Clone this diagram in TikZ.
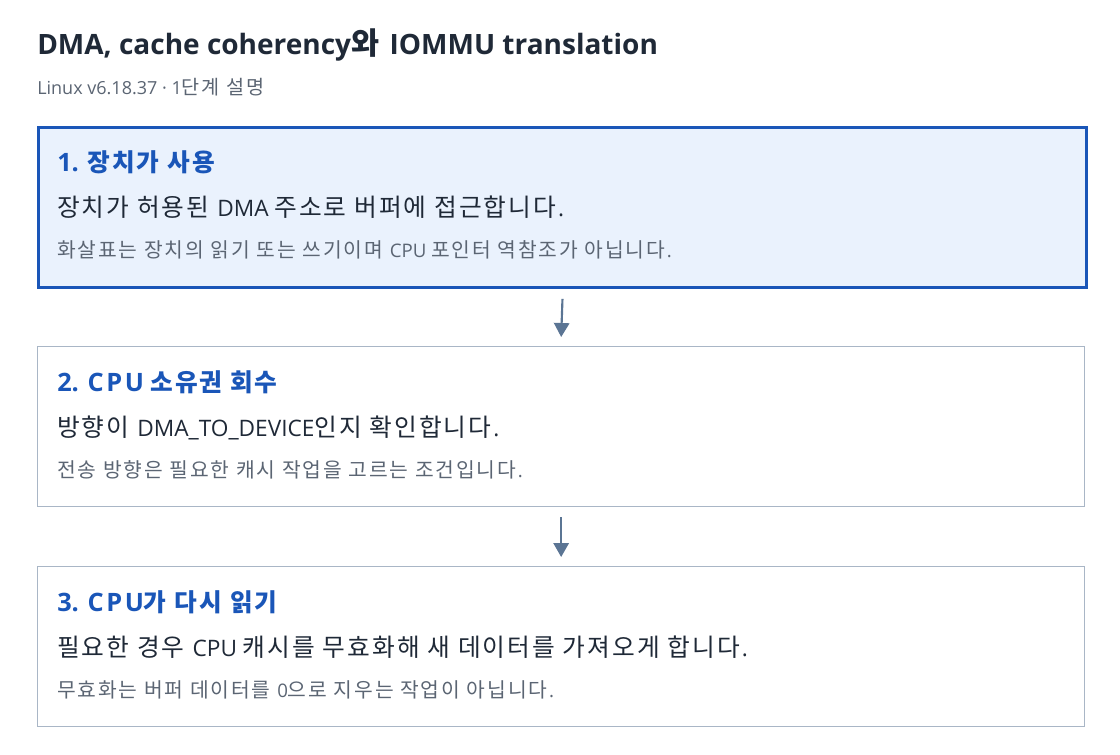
\documentclass[tikz,border=0pt]{standalone}
\usepackage{fontspec}
\setmainfont{Open Sans}
\newfontfamily\lfontA{Open Sans}
\newfontfamily\hfontA[Scale=1.09]{Noto Sans CJK KR}
\newfontfamily\hfontH[Scale=0.974]{Noto Sans CJK KR}
\let\hfont\hfontA
\let\lfont\lfontA
\def\hk{0.105em}
\newcommand\trackedCPU{C\kern0.1em P\kern0.1em U}
\usetikzlibrary{arrows.meta}
% Hangul syllables are set in the Korean font, with a little tracking
\XeTeXinterchartokenstate=1
\newXeTeXintercharclass\HanClass
\newcount\hcnt
\hcnt="AC00
\loop \XeTeXcharclass\hcnt=\HanClass \advance\hcnt by 1 \ifnum\hcnt<"D7A4 \repeat
\XeTeXinterchartoks 0 \HanClass = {\hfont}
\XeTeXinterchartoks 4095 \HanClass = {\hfont}
\XeTeXinterchartoks \HanClass \HanClass = {\kern\hk\relax}
\XeTeXinterchartoks \HanClass 0 = {\kern\hk\relax\lfont}
\XeTeXinterchartoks \HanClass 4095 = {\kern\hk\relax\lfont}
\definecolor{titlec}{HTML}{1F2937}
\definecolor{subc}{HTML}{5B6573}
\definecolor{blueh}{HTML}{1A56B8}
\definecolor{fillA}{HTML}{EAF2FD}
\definecolor{grayb}{HTML}{A9B6C6}
\definecolor{arrc}{HTML}{5B7594}
\tikzset{
  px/.style={x=0.75pt,y=-0.75pt},
  activebox/.style={draw=blueh, line width=2.2pt, fill=fillA, minimum width=1048*0.75pt, minimum height=160*0.75pt, inner sep=0pt, anchor=north west},
  plainbox/.style={draw=grayb, line width=1pt, fill=white, minimum width=1047*0.75pt, minimum height=160*0.75pt, inner sep=0pt, anchor=north west},
  headtxt/.style={anchor=base west, inner sep=0pt, text=blueh, font=\let\hfont\hfontH\def\hk{0.07em}\bfseries\fontsize{19pt}{22pt}\selectfont},
  maintxt/.style={anchor=base west, inner sep=0pt, text=titlec, font=\def\hk{0.08em}\fontsize{17pt}{20pt}\selectfont},
  notetxt/.style={anchor=base west, inner sep=0pt, text=subc, font=\def\hk{0.09em}\fontsize{14pt}{17pt}\selectfont},
  flowarrow/.style={draw=arrc, line width=1.6pt, -{Triangle[width=11.5pt,length=10.5pt]}}
}
\begin{document}
\begin{tikzpicture}[px]
\useasboundingbox[fill=white] (0,0) rectangle (1120,754);
\node[anchor=base west, inner sep=0pt, text=titlec, font=\bfseries\fontsize{21pt}{25pt}\selectfont] (title) at (37,54) {DMA, cache coherency와 IOMMU translation};
\node[anchor=base west, inner sep=0pt, text=subc, font=\fontsize{13.5pt}{16pt}\selectfont] (sub) at (37,94) {Linux v6.18.37 · 1단계 설명};

\node[activebox] (b1) at (37,126) {};
\node[headtxt] (h1) at (57,171) {1. 장치가 사용};
\node[maintxt] (m1) at (57,216) {장치가 허용된 DMA 주소로 버퍼에 접근합니다.};
\node[notetxt] (n1) at (57,257) {화살표는 장치의 읽기 또는 쓰기이며 CPU 포인터 역참조가 아닙니다.};

\node[plainbox] (b2) at (37,346) {};
\node[headtxt] (h2) at (57,391) {2. \trackedCPU{} 소유권 회수};
\node[maintxt] (m2) at (57,436) {방향이 DMA\_TO\_DEVICE인지 확인합니다.};
\node[notetxt] (n2) at (57,477) {전송 방향은 필요한 캐시 작업을 고르는 조건입니다.};

\node[plainbox] (b3) at (37,566) {};
\node[headtxt] (h3) at (57,611) {3. \trackedCPU{}가 다시 읽기};
\node[maintxt] (m3) at (57,656) {필요한 경우 CPU 캐시를 무효화해 새 데이터를 가져오게 합니다.};
\node[notetxt] (n3) at (57,697) {무효화는 버퍼 데이터를 0으로 지우는 작업이 아닙니다.};

\draw[flowarrow] ([yshift=-10*0.75pt]b1.south) -- ([yshift=9*0.75pt]b2.north);
\draw[flowarrow] ([yshift=-10*0.75pt]b2.south) -- ([yshift=9*0.75pt]b3.north);
\end{tikzpicture}
\end{document}
